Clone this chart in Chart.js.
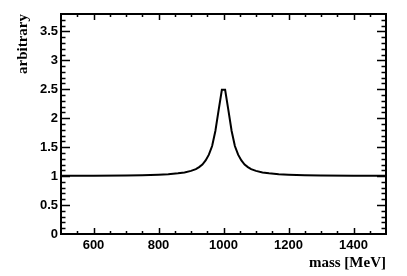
<!DOCTYPE html>
<html>
<head>
<meta charset="utf-8">
<script src="https://cdn.jsdelivr.net/npm/chart.js@4"></script>
<style>
  html, body { margin: 0; padding: 0; background: #fff; }
  canvas { display: block; }
</style>
</head>
<body>
<canvas id="chart" width="407" height="276"></canvas>
<script>
// curve (mass in MeV, arbitrary units)
const masses = [500, 600, 700, 750, 800, 830, 860, 880, 900, 915, 925, 935, 945, 955, 965, 975, 985, 995,
  1005, 1015, 1025, 1035, 1045, 1055, 1065, 1075, 1085, 1100, 1120, 1140, 1170, 1200, 1250, 1300, 1400, 1500];
const values = [1.004, 1.006, 1.011, 1.015, 1.024, 1.033, 1.048, 1.064, 1.09, 1.12, 1.155, 1.2, 1.27, 1.37, 1.52, 1.78, 2.14, 2.49,
  2.49, 2.14, 1.78, 1.52, 1.37, 1.27, 1.2, 1.155, 1.12, 1.09, 1.064, 1.048, 1.033, 1.024, 1.015, 1.011, 1.006, 1.004];

const xTicks = [600, 800, 1000, 1200, 1400];
const yTicks = [0, 0.5, 1, 1.5, 2, 2.5, 3, 3.5];

const tickFont = { family: 'Liberation Sans', size: 13, weight: 'bold' };
const titleFont = { family: 'Liberation Serif', size: 15, weight: 'bold' };

// ROOT-like frame with inward ticks on all four sides
const frame = {
  id: 'frame',
  afterDatasetsDraw(chart) {
    const { ctx, chartArea: a, scales: { x, y } } = chart;
    ctx.save();
    ctx.strokeStyle = '#000';
    ctx.lineWidth = 1.5;
    ctx.beginPath();
    for (let v = 550; v < 1500; v += 50) {
      const px = Math.round(x.getPixelForValue(v)) + 0.5;
      const len = v % 200 === 0 ? 6 : 3;
      ctx.moveTo(px, a.bottom); ctx.lineTo(px, a.bottom - len);
      ctx.moveTo(px, a.top); ctx.lineTo(px, a.top + len);
    }
    for (let i = 1; i < 38; i++) {
      const v = i / 10;
      const py = Math.round(y.getPixelForValue(v)) + 0.5;
      const len = i % 5 === 0 ? 9 : 4.5;
      ctx.moveTo(a.left, py); ctx.lineTo(a.left + len, py);
      ctx.moveTo(a.right, py); ctx.lineTo(a.right - len, py);
    }
    ctx.stroke();
    ctx.lineWidth = 2;
    ctx.strokeRect(a.left, a.top, a.right - a.left, a.bottom - a.top);
    ctx.restore();
  }
};

const chart = new Chart(document.getElementById('chart').getContext('2d'), {
  type: 'line',
  data: {
    datasets: [{
      data: masses.map((m, i) => ({ x: m, y: values[i] })),
      borderColor: '#000',
      borderWidth: 2,
      pointRadius: 0,
      tension: 0,
      fill: false
    }]
  },
  options: {
    responsive: false,
    animation: false,
    devicePixelRatio: 1,
    layout: { padding: { left: 10, top: 14, right: 21, bottom: 0 } },
    plugins: { legend: { display: false }, tooltip: { enabled: false } },
    scales: {
      x: {
        type: 'linear',
        min: 500,
        max: 1500,
        afterBuildTicks: s => { s.ticks = xTicks.map(v => ({ value: v })); },
        afterFit: s => { s.height = 42; },
        grid: { display: false, drawTicks: false },
        border: { display: false },
        ticks: { font: tickFont, color: '#000', padding: 4, maxRotation: 0, autoSkip: false, callback: v => String(v) },
        title: { display: true, text: 'mass [MeV]', align: 'end', font: titleFont, color: '#000', padding: { top: 0, bottom: 4 } }
      },
      y: {
        min: 0,
        max: 3.8,
        afterBuildTicks: s => { s.ticks = yTicks.map(v => ({ value: v })); },
        afterFit: s => { s.width = 51; },
        grid: { display: false, drawTicks: false },
        border: { display: false },
        ticks: { font: tickFont, color: '#000', padding: 3, autoSkip: false, callback: v => String(v) },
        title: { display: true, text: 'arbitrary', align: 'end', font: titleFont, color: '#000', padding: { top: 4, bottom: 0 } }
      }
    }
  },
  plugins: [frame]
});
</script>
</body>
</html>
